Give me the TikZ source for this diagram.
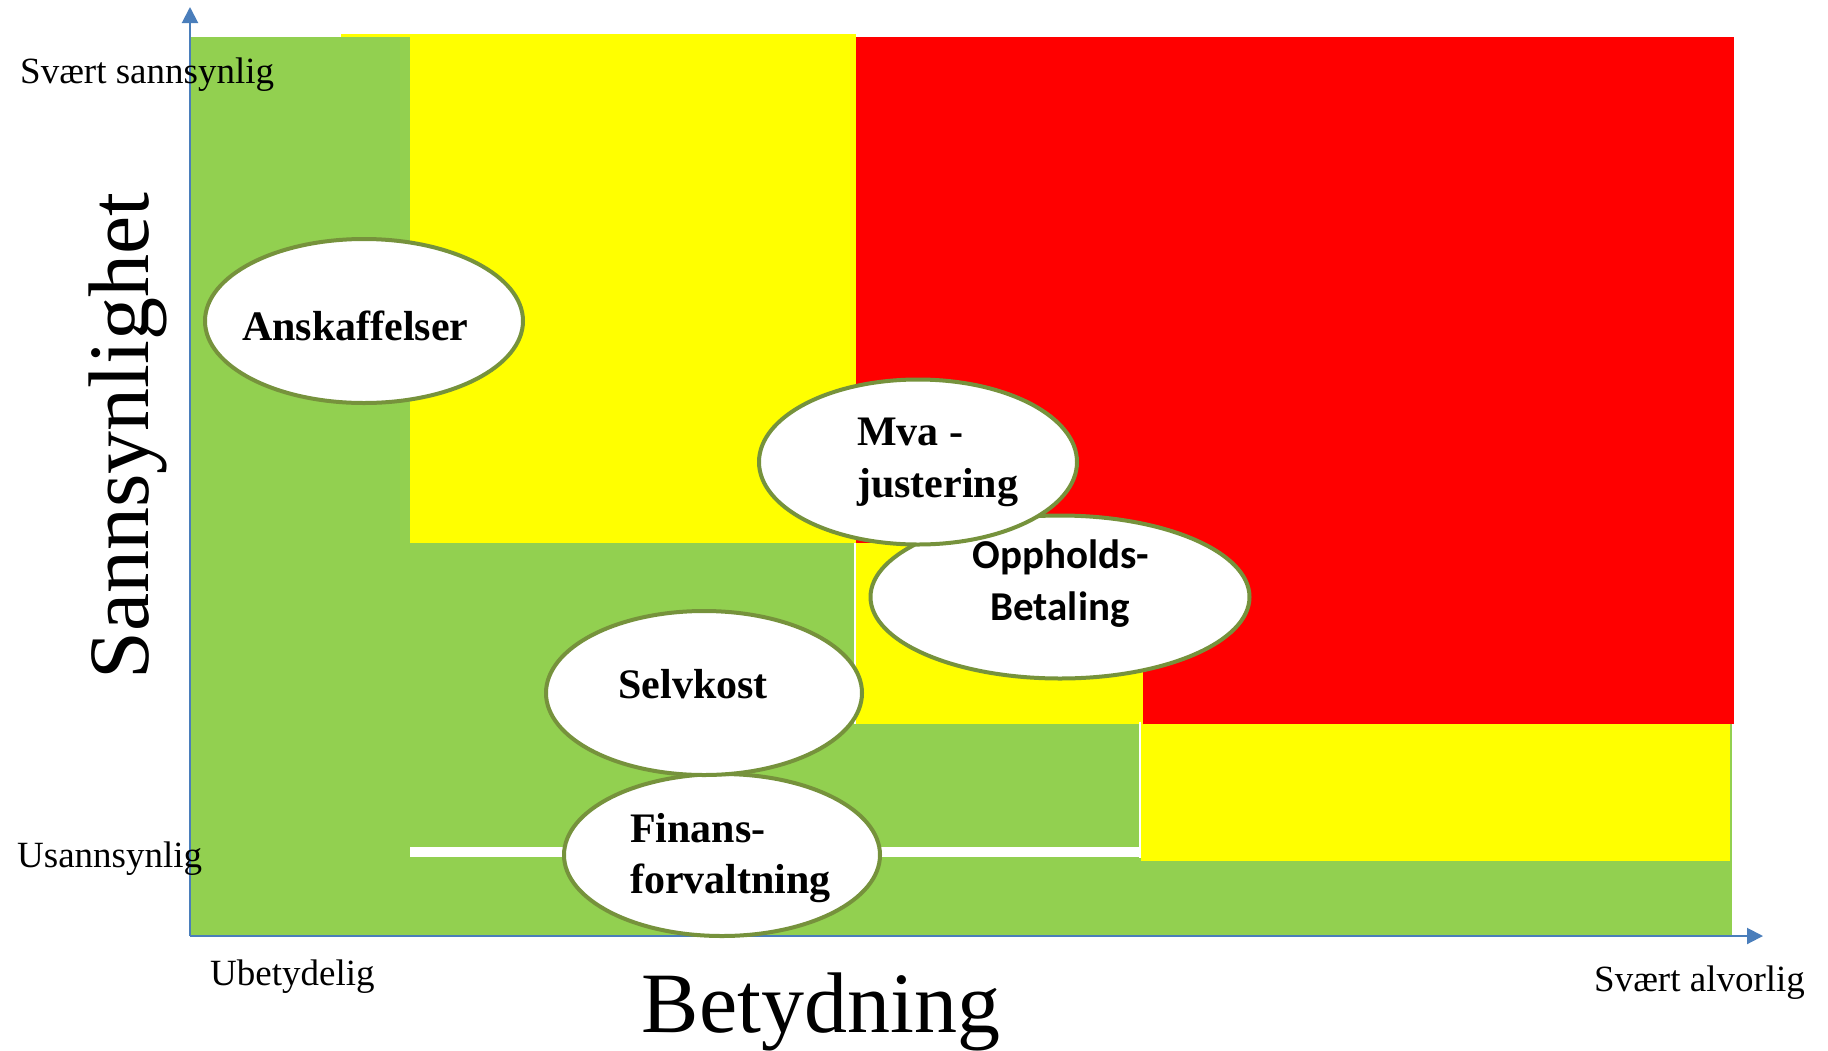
\documentclass[tikz,border=0pt]{standalone}
\usepackage{fontspec}
\setmainfont{Liberation Serif}
\newfontfamily\calib{Carlito}
\usetikzlibrary{shapes.geometric,arrows.meta}
\definecolor{rgreen}{HTML}{92D050}
\definecolor{ryellow}{HTML}{FFFF00}
\definecolor{rred}{HTML}{FF0000}
\definecolor{axisblue}{HTML}{4A7EBB}
\definecolor{olive}{HTML}{76923C}
\tikzset{
  axisline/.style={draw=axisblue, line width=2pt, -{Triangle[width=16pt,length=16pt]}},
  riskell/.style={ellipse, draw=olive, line width=4pt, fill=white, inner sep=0pt},
  ellbold/.style={inner sep=0pt, font=\fontsize{42}{52}\selectfont\bfseries},
  ellsans/.style={inner sep=0pt, font=\calib\fontsize{41}{52}\selectfont\bfseries},
  lbl/.style={inner sep=0pt, font=\fontsize{37}{44}\selectfont},
  biglbl/.style={inner sep=0pt, font=\fontsize{86}{100}\selectfont},
}
\begin{document}
\begin{tikzpicture}[x=1pt,y=-1pt]
\useasboundingbox (0,0) rectangle (1828,1050);
% risk zones
\fill[rgreen] (190,37) rectangle (1732,936);
\fill[ryellow] (341,34) rectangle (856,543);
\fill[rgreen] (190,37) rectangle (410,936);
\fill[rred] (856,37) rectangle (1734,724);
\fill[ryellow] (856,543) rectangle (1143,724);
\fill[white] (854,543) rectangle (856,724);
\fill[ryellow] (1141,724) rectangle (1730,861);
\fill[white] (1139,722) rectangle (1141,858);
\fill[white] (410,847) rectangle (1139,857);
% axes
\coordinate (O) at (190,936);
\coordinate (ytip) at (190,7);
\coordinate (xtip) at (1763,936);
\draw[axisline] (O) -- (ytip);
\draw[axisline] (O) -- (xtip);
% axis labels
\node[lbl, anchor=base west] (vhigh) at (20,83) {Svært sannsynlig};
\node[lbl, anchor=base west] (vlow) at (17,867) {Usannsynlig};
\node[lbl, anchor=base west] (hlow) at (210,985) {Ubetydelig};
\node[lbl, anchor=base west] (hhigh) at (1594,991) {Svært alvorlig};
\node[biglbl, anchor=base] (xlab) at (821,1032) {Betydning};
\node[biglbl, anchor=base, rotate=90] (ylab) at (148,436) {Sannsynlighet};
% risk ellipses
\node[riskell, minimum width=316pt, minimum height=162pt] (fin) at (722,855) {};
\node[riskell, minimum width=316pt, minimum height=164pt] (selv) at (704,693) {};
\node[riskell, minimum width=379pt, minimum height=163pt] (opp) at (1060,597) {};
\node[riskell, minimum width=318pt, minimum height=165pt] (mva) at (918,462) {};
\node[riskell, minimum width=318pt, minimum height=164pt] (ansk) at (364,321) {};
% ellipse texts
\node[ellbold, anchor=base west] (anskt) at (242,340) {Anskaffelser};
\node[ellbold, anchor=base west] (mvat1) at (857,445) {Mva -};
\node[ellbold, anchor=base west] (mvat2) at (857,497) {justering};
\node[ellsans, anchor=base] (oppt1) at (1061,568) {Oppholds-};
\node[ellsans, anchor=base] (oppt2) at (1060,620) {Betaling};
\node[ellbold, anchor=base] (selvt) at (693,698) {Selvkost};
\node[ellbold, anchor=base west] (fint1) at (630,842) {Finans-};
\node[ellbold, anchor=base west] (fint2) at (630,893) {forvaltning};
\end{tikzpicture}
\end{document}
